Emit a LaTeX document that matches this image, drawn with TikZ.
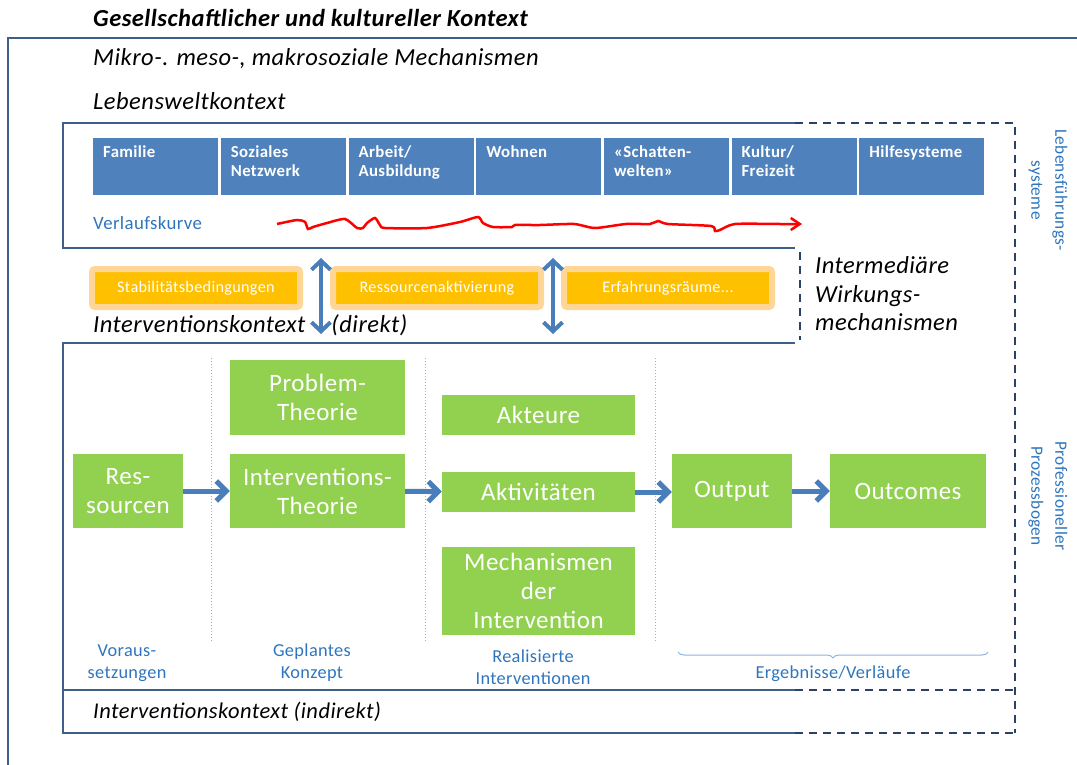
\documentclass[tikz,border=0pt]{standalone}
\usepackage{fontspec}
\setmainfont{Carlito}[LetterSpace=2]
\usetikzlibrary{arrows.meta,decorations.pathreplacing}
\definecolor{frame}{RGB}{62,95,138}
\definecolor{dashc}{RGB}{40,66,104}
\definecolor{tilec}{RGB}{79,129,189}
\definecolor{greenc}{RGB}{146,208,80}
\definecolor{orangec}{RGB}{255,192,0}
\definecolor{glowc}{RGB}{255,214,150}
\definecolor{labelc}{RGB}{46,117,190}
\definecolor{dotc}{RGB}{141,179,226}
\definecolor{arrowc}{RGB}{74,126,187}
\tikzset{
  framel/.style={draw=frame,line width=2.4pt},
  dashl/.style={draw=dashc,line width=2.6pt,dash pattern=on 8pt off 6pt},
  ital/.style={font=\fontsize{24.5}{29}\selectfont\itshape,anchor=west,inner sep=0pt},
  tile/.style={fill=tilec,draw=none,minimum width=125pt,minimum height=57pt,anchor=north west,inner sep=0pt},
  tiletext/.style={font=\fontsize{16.8}{19}\selectfont\bfseries,text=white,align=left,anchor=north west,inner sep=0pt},
  gbox/.style={fill=greenc,draw=none,text=white,align=center,font=\fontsize{25}{29}\selectfont,inner sep=0pt},
  obox/.style={fill=orangec,draw=glowc,line width=6pt,rounded corners=3pt,text=white,font=\fontsize{16.2}{18}\selectfont,minimum width=208pt,minimum height=38pt,inner sep=0pt},
  blab/.style={text=labelc,align=center,font=\fontsize{18.3}{22}\selectfont,inner sep=0pt},
  harrow/.style={draw=arrowc,line width=5pt,-{Straight Barb[length=10pt,width=20pt,line width=5pt]}},
  varrow/.style={draw=arrowc,line width=4pt,{Straight Barb[length=9pt,width=19pt,line width=4pt]}-{Straight Barb[length=9pt,width=19pt,line width=4pt]}},
  dotl/.style={draw=dotc,line width=1pt,dotted},
  rotlab/.style={text=labelc,rotate=-90,align=center,inner sep=0pt,font=\fontsize{17.3}{24}\selectfont}
}
\begin{document}
\begin{tikzpicture}[x=1pt,y=-1pt]
\useasboundingbox (0,0) rectangle (1077,765);
% outer context
\node[font=\fontsize{24.5}{29}\selectfont\bfseries\itshape,anchor=west,inner sep=0pt] (title) at (93,18) {Gesellschaftlicher und kultureller Kontext};
\draw[framel] (1077,38) -- (8,38) -- (8,765);
\node[ital] (mikro) at (93,59) {Mikro-. meso-, makrosoziale Mechanismen};
\node[ital] (lwk) at (93,101) {Lebensweltkontext};
% Lebenswelt box
\draw[framel] (795,123) -- (63,123) -- (63,248) -- (795,248);
\draw[dashl] (795,123) -- (1015,123) -- (1015,733);
\draw[dashl] (800,252) -- (800,340);
% tiles
\foreach \i/\t in {0/Familie,1/{Soziales\\Netzwerk},2/{Arbeit/\\Ausbildung},3/Wohnen,4/{«Schatten-\\welten»},5/{Kultur/\\Freizeit},6/Hilfesysteme}{
  \node[tile] (tile\i) at ({93+\i*127.7},138) {};
  \node[tiletext] (tilet\i) at ({103+\i*127.7},146) {\t};
}
\node[text=labelc,font=\fontsize{18.8}{22}\selectfont,anchor=west,inner sep=0pt] (verlauf) at (93,223) {Verlaufskurve};
\draw[red,line width=2.5pt,-{Straight Barb[length=9pt,width=12pt,line width=2.5pt]}] plot[smooth,tension=0.4] coordinates {(277,224) (297,220) (305,222) (308,229) (313,227) (327,223) (345,219) (357,228) (363,228) (367,223) (375,218) (380,225) (385,228) (427,228) (460,222) (478,217) (483,223) (493,227) (512,227) (515,225) (540,225) (574,224) (595,228) (626,224) (650,224) (658,221) (668,224) (711,226) (715,231) (720,230) (735,224) (780,224) (802,224)};
\node[rotlab] (lfs) at (1048,190) {Lebensführungs-\\systeme};
% intermediary
\node[obox] (stab) at (196,288) {Stabilitätsbedingungen};
\node[obox] (ress) at (437,288) {Ressourcenaktivierung};
\node[obox] (erf) at (668,288) {Erfahrungsräume...};
\coordinate (a1t) at (321,258);
\coordinate (a1b) at (321,334);
\coordinate (a2t) at (553,258);
\coordinate (a2b) at (553,334);
\draw[varrow] (a1t) -- (a1b);
\draw[varrow] (a2t) -- (a2b);
\node[ital] (idir) at (93,325) {Interventionskontext\hspace{26pt}(direkt)};
\node[ital,align=left,font=\fontsize{24.5}{28.5}\selectfont\itshape] (iwm) at (815,294) {Intermediäre\\Wirkungs-\\mechanismen};
% direct intervention box
\draw[framel] (795,343) -- (63,343) -- (63,733) -- (795,733);
\draw[framel] (63,690) -- (795,690);
\draw[dashl] (795,690) -- (1015,690);
\draw[dashl] (795,733) -- (1015,733);
\node[rotlab] (prof) at (1048,496) {Professioneller\\Prozessbogen};
\foreach \x in {211,425,655}{\draw[dotl] (\x,358) -- (\x,642);}
% green boxes
\node[gbox,minimum width=110pt,minimum height=74pt] (res) at (128,491) {Res-\\sourcen};
\node[gbox,minimum width=175pt,minimum height=75pt] (prob) at (317.5,397.5) {Problem-\\Theorie};
\node[gbox,minimum width=175pt,minimum height=74pt] (ith) at (317.5,491) {Interventions-\\Theorie};
\node[gbox,minimum width=193pt,minimum height=40pt] (akt) at (538.5,415) {Akteure};
\node[gbox,minimum width=193pt,minimum height=40pt] (aktiv) at (538.5,492) {Aktivitäten};
\node[gbox,minimum width=193pt,minimum height=88pt] (mech) at (538.5,591) {Mechanismen\\der\\Intervention};
\node[gbox,minimum width=120pt,minimum height=74pt] (out) at (732,491) {Output};
\node[gbox,minimum width=156pt,minimum height=74pt] (outc) at (908,491) {Outcomes};
\draw[harrow] (res) -- (ith);
\draw[harrow] (ith) -- (aktiv);
\draw[harrow] (aktiv.east) -- (out.west |- aktiv.east);
\draw[harrow] (out) -- (outc);
% bottom labels
\node[blab] (vor) at (127,663) {Voraus-\\setzungen};
\node[blab] (gep) at (312,663) {Geplantes\\Konzept};
\node[blab] (real) at (533,667) {Realisierte\\Interventionen};
\coordinate (brl) at (678,652);
\coordinate (brr) at (988,652);
\draw[draw=dotc,line width=1pt,decorate,decoration={brace,mirror,amplitude=6pt}] (brl) -- (brr);
\node[blab] (erg) at (833,674) {Ergebnisse/Verläufe};
\node[ital,font=\fontsize{22.5}{26}\selectfont\itshape] (iind) at (93,712) {Interventionskontext (indirekt)};
\end{tikzpicture}
\end{document}
